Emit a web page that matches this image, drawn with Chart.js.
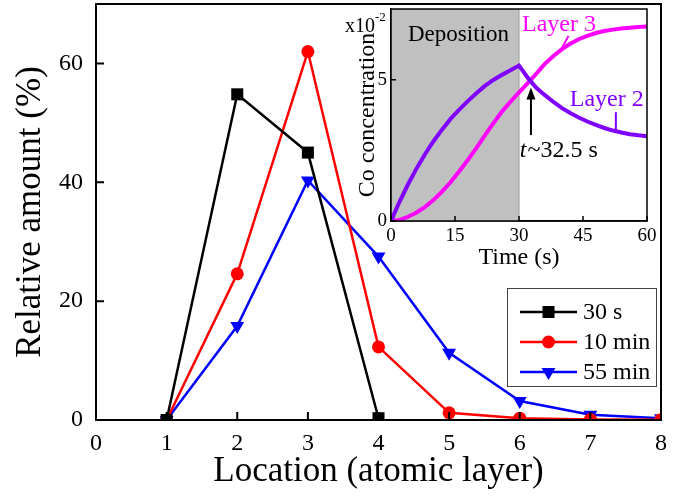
<!DOCTYPE html>
<html>
<head>
<meta charset="utf-8">
<script src="https://cdn.jsdelivr.net/npm/chart.js@4.4.1/dist/chart.umd.min.js"></script>
<style>
  body { margin: 0; background: #fff; }
  #wrap { position: relative; width: 682px; height: 496px; }
  #main { position: absolute; left: 0; top: 0; width: 682px; height: 496px; }
  #inset { position: absolute; left: 340px; top: 0; width: 320px; height: 272px; }
</style>
</head>
<body>
<div id="wrap">
  <canvas id="main" width="682" height="496"></canvas>
  <canvas id="inset" width="320" height="272"></canvas>
</div>
<script>
// main panel: relative amount per atomic layer
const layers = [1, 2, 3, 4, 5, 6, 7, 8];
const amount30s = [0, 54.8, 45.0, 0.3];
const amount10min = [0, 24.6, 62.0, 12.3, 1.2, 0.3, 0.1, 0.05];
const amount55min = [0, 15.8, 40.3, 27.5, 11.3, 3.2, 0.9, 0.3];
const seriesNames = ['30 s', '10 min', '55 min'];

// inset: Co concentration (x10^-2) vs time
const times = [0, 2, 4, 6, 8, 10, 12, 14, 16, 18, 20, 22, 24, 26, 28, 30,
               32, 34, 36, 38, 40, 42, 44, 46, 48, 50, 52, 54, 56, 58, 60];
const layer2Conc = [0, 0.68, 1.3, 1.86, 2.37, 2.83, 3.24, 3.62, 3.94, 4.24, 4.52, 4.78, 4.99, 5.17, 5.33, 5.5,
                    5.08, 4.72, 4.46, 4.22, 4.0, 3.82, 3.66, 3.52, 3.4, 3.29, 3.2, 3.13, 3.07, 3.03, 3.0];
const layer3Conc = [0, 0.04, 0.15, 0.3, 0.5, 0.75, 1.05, 1.38, 1.76, 2.16, 2.58, 3.03, 3.46, 3.87, 4.22, 4.55,
                    4.87, 5.2, 5.55, 5.83, 6.07, 6.27, 6.43, 6.55, 6.65, 6.72, 6.77, 6.81, 6.84, 6.86, 6.88];
const depositionEnd = 30;

const serif = "'Liberation Serif', 'Times New Roman', serif";

const toPoints = (xs, ys) => ys.map((y, i) => ({ x: xs[i], y: y }));

// fixed axis boxes, no extra label padding
const fixSize = (prop, val) => function (s) {
  s[prop] = val;
  s.paddingTop = 0; s.paddingBottom = 0; s.paddingLeft = 0; s.paddingRight = 0;
};

// box around the plot area + inward tick marks
const frame = {
  id: 'frame',
  afterDatasetsDraw(chart, args, opts) {
    const { ctx, chartArea: a, scales: { x, y } } = chart;
    const len = opts.tick || 8;
    ctx.save();
    ctx.strokeStyle = '#000';
    ctx.lineWidth = opts.width || 2;
    ctx.beginPath();
    x.ticks.forEach(t => {
      const px = x.getPixelForValue(t.value);
      ctx.moveTo(px, a.bottom);
      ctx.lineTo(px, a.bottom - len);
    });
    y.ticks.forEach(t => {
      const py = y.getPixelForValue(t.value);
      ctx.moveTo(a.left, py);
      ctx.lineTo(a.left + len, py);
    });
    ctx.stroke();
    ctx.strokeRect(a.left, a.top, a.right - a.left, a.bottom - a.top);
    ctx.restore();
  }
};

// boxed legend with line + marker
const legendBox = {
  id: 'legendBox',
  afterDraw(chart) {
    const ctx = chart.ctx;
    ctx.save();
    ctx.strokeStyle = '#444';
    ctx.lineWidth = 1;
    ctx.strokeRect(507.5, 288.5, 149, 98);
    chart.data.datasets.forEach((ds, i) => {
      const y = 312 + i * 30;
      ctx.strokeStyle = ds.borderColor;
      ctx.lineWidth = 2.5;
      ctx.beginPath();
      ctx.moveTo(520, y);
      ctx.lineTo(577, y);
      ctx.stroke();
      ctx.fillStyle = ds.backgroundColor;
      Chart.helpers.drawPoint(ctx, {
        pointStyle: ds.pointStyle, radius: ds.pointRadius,
        rotation: ds.pointRotation || 0, borderWidth: 0
      }, 548.5, y);
      ctx.fillStyle = '#000';
      ctx.font = '24px ' + serif;
      ctx.textBaseline = 'middle';
      ctx.textAlign = 'left';
      ctx.fillText(ds.label, 583, y + 1);
    });
    ctx.restore();
  }
};

new Chart(document.getElementById('main'), {
  type: 'line',
  data: {
    datasets: [
      { label: seriesNames[0], data: toPoints(layers, amount30s), borderColor: '#000', backgroundColor: '#000',
        pointStyle: 'rect', pointRadius: 8.5, borderWidth: 2.5, pointBorderWidth: 0, clip: 0 },
      { label: seriesNames[1], data: toPoints(layers, amount10min), borderColor: '#ff0000', backgroundColor: '#ff0000',
        pointStyle: 'circle', pointRadius: 6.5, borderWidth: 2.5, pointBorderWidth: 0, clip: 0 },
      { label: seriesNames[2], data: toPoints(layers, amount55min), borderColor: '#0000ff', backgroundColor: '#0000ff',
        pointStyle: 'triangle', pointRotation: 180, pointRadius: 8, borderWidth: 2.5, pointBorderWidth: 0, clip: 0 }
    ]
  },
  options: {
    responsive: false,
    animation: false,
    layout: { autoPadding: false, padding: { top: 4, right: 21, left: 0, bottom: 0 } },
    plugins: { legend: { display: false }, tooltip: { enabled: false }, frame: { width: 2, tick: 8 } },
    scales: {
      x: {
        type: 'linear', min: 0, max: 8,
        ticks: { stepSize: 1, color: '#000', font: { family: serif, size: 24 }, padding: 9, includeBounds: false },
        grid: { drawOnChartArea: false, drawTicks: false },
        border: { color: '#000', width: 2 },
        title: { display: true, text: 'Location (atomic layer)', color: '#000',
                 font: { family: serif, size: 35 }, padding: { top: 0, bottom: 3 } },
        afterFit: fixSize('height', 76)
      },
      y: {
        type: 'linear', min: 0, max: 70,
        ticks: { stepSize: 20, color: '#000', font: { family: serif, size: 24 }, padding: 13, includeBounds: false },
        grid: { drawOnChartArea: false, drawTicks: false },
        border: { color: '#000', width: 2 },
        title: { display: true, text: 'Relative amount (%)', color: '#000',
                 font: { family: serif, size: 35 }, padding: { top: 10, bottom: 0 } },
        afterFit: fixSize('width', 96)
      }
    }
  },
  plugins: [frame, legendBox]
});

// inset decorations: shaded deposition window and labels
const insetShade = {
  id: 'insetShade',
  beforeDatasetsDraw(chart) {
    const { ctx, chartArea: a, scales: { x } } = chart;
    const x0 = x.getPixelForValue(0), x1 = x.getPixelForValue(depositionEnd);
    ctx.save();
    ctx.fillStyle = '#c0c0c0';
    ctx.fillRect(x0, a.top, x1 - x0, a.bottom - a.top);
    ctx.strokeStyle = '#9a9a9a';
    ctx.lineWidth = 1;
    ctx.beginPath();
    ctx.moveTo(x1, a.top);
    ctx.lineTo(x1, a.bottom);
    ctx.stroke();
    ctx.restore();
  }
};

const insetLabels = {
  id: 'insetLabels',
  afterDraw(chart) {
    const { ctx, chartArea: a, scales: { x, y } } = chart;
    ctx.save();
    ctx.textAlign = 'left';

    // x10^-2 multiplier
    ctx.fillStyle = '#000';
    ctx.textBaseline = 'alphabetic';
    ctx.font = '20px ' + serif;
    ctx.fillText('x10', a.left - 46, a.top + 23);
    const w = ctx.measureText('x10').width;
    ctx.font = '13px ' + serif;
    ctx.fillText('-2', a.left - 46 + w, a.top + 12);
    ctx.textBaseline = 'middle';

    ctx.font = '23px ' + serif;
    ctx.fillText('Deposition', x.getPixelForValue(15.7) - 50, y.getPixelForValue(6.57));

    // Layer 3 label
    ctx.fillStyle = '#ff00ff';
    ctx.strokeStyle = '#ff00ff';
    ctx.font = '24px ' + serif;
    ctx.fillText('Layer 3', x.getPixelForValue(30.7), y.getPixelForValue(6.93));
    ctx.lineWidth = 2;
    ctx.beginPath();
    ctx.moveTo(x.getPixelForValue(40.0), y.getPixelForValue(6.1));
    ctx.lineTo(x.getPixelForValue(41.6), y.getPixelForValue(6.55));
    ctx.stroke();

    // Layer 2 label
    ctx.fillStyle = '#8000ff';
    ctx.strokeStyle = '#8000ff';
    ctx.fillText('Layer 2', x.getPixelForValue(41.9), y.getPixelForValue(4.28));
    ctx.beginPath();
    ctx.moveTo(x.getPixelForValue(52.7), y.getPixelForValue(3.85));
    ctx.lineTo(x.getPixelForValue(52.7), y.getPixelForValue(3.2));
    ctx.stroke();

    // arrow to crossing
    const ax = x.getPixelForValue(32.8);
    const ay0 = y.getPixelForValue(3.04), ay1 = y.getPixelForValue(4.72);
    ctx.strokeStyle = '#000';
    ctx.fillStyle = '#000';
    ctx.lineWidth = 2;
    ctx.beginPath();
    ctx.moveTo(ax, ay0);
    ctx.lineTo(ax, ay1 + 8);
    ctx.stroke();
    ctx.beginPath();
    ctx.moveTo(ax, ay1);
    ctx.lineTo(ax - 4.5, ay1 + 12);
    ctx.lineTo(ax + 4.5, ay1 + 12);
    ctx.closePath();
    ctx.fill();

    // t~32.5 s
    const tx = x.getPixelForValue(30.2), ty = y.getPixelForValue(2.5);
    ctx.font = 'italic 24px ' + serif;
    ctx.fillText('t', tx, ty);
    const tw = ctx.measureText('t').width;
    ctx.font = '24px ' + serif;
    ctx.fillText('~32.5 s', tx + tw + 1, ty);
    ctx.restore();
  }
};

new Chart(document.getElementById('inset'), {
  type: 'line',
  data: {
    datasets: [
      { label: 'Layer 2', data: toPoints(times, layer2Conc), borderColor: '#8000ff', borderWidth: 4,
        pointRadius: 0, tension: 0, clip: 0 },
      { label: 'Layer 3', data: toPoints(times, layer3Conc), borderColor: '#ff00ff', borderWidth: 4,
        pointRadius: 0, tension: 0, clip: 0 }
    ]
  },
  options: {
    responsive: false,
    animation: false,
    layout: { autoPadding: false, padding: { top: 9, right: 13, left: 0, bottom: 0 } },
    plugins: { legend: { display: false }, tooltip: { enabled: false }, frame: { width: 1.5, tick: 5 } },
    scales: {
      x: {
        type: 'linear', min: 0, max: 60,
        ticks: { stepSize: 15, color: '#000', font: { family: serif, size: 19 }, padding: 4, includeBounds: false },
        grid: { drawOnChartArea: false, drawTicks: false },
        border: { color: '#000', width: 1.5 },
        title: { display: true, text: 'Time (s)', color: '#000',
                 font: { family: serif, size: 24 }, padding: { top: 0, bottom: 0 } },
        afterFit: fixSize('height', 51)
      },
      y: {
        type: 'linear', min: 0, max: 7.5,
        ticks: { stepSize: 5, color: '#000', font: { family: serif, size: 19 }, padding: 4, includeBounds: false },
        grid: { drawOnChartArea: false, drawTicks: false },
        border: { color: '#000', width: 1.5 },
        title: { display: true, text: 'Co concentration', color: '#000',
                 font: { family: serif, size: 24 }, padding: { top: 13, bottom: 0 } },
        afterFit: fixSize('width', 51)
      }
    }
  },
  plugins: [insetShade, frame, insetLabels]
});
</script>
</body>
</html>
